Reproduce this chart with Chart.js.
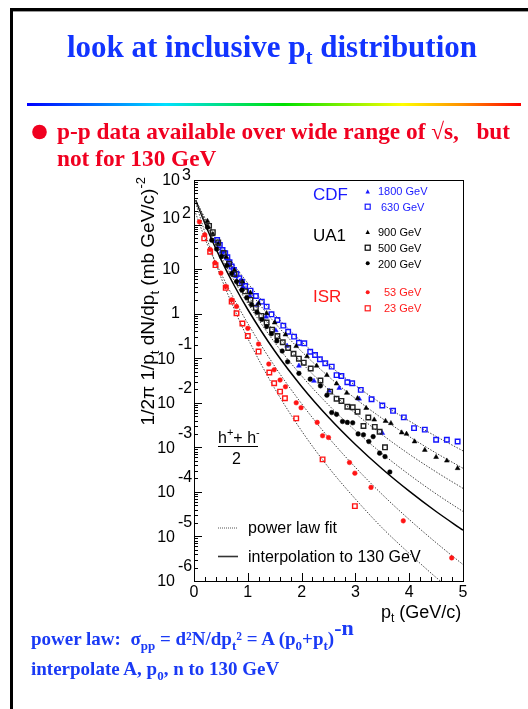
<!DOCTYPE html>
<html><head><meta charset="utf-8">
<script src="https://cdn.jsdelivr.net/npm/chart.js@4.4.1/dist/chart.umd.min.js"></script>
<style>
html,body{margin:0;padding:0;background:#fff}
body{width:528px;height:709px;position:relative;overflow:hidden}
#c{position:absolute;left:0;top:0}
#ov{position:absolute;left:0;top:0}
#ov text{white-space:pre}
</style></head><body>
<canvas id="c" width="528" height="709"></canvas>
<svg id="ov" width="528" height="709" xmlns="http://www.w3.org/2000/svg">
<defs><linearGradient id="rb" x1="0" x2="1" y1="0" y2="0">
<stop offset="0" stop-color="#0000ff"/><stop offset="0.28" stop-color="#00e0ff"/>
<stop offset="0.52" stop-color="#00e000"/><stop offset="0.76" stop-color="#ffff00"/>
<stop offset="0.88" stop-color="#ff9000"/><stop offset="1" stop-color="#ff0000"/></linearGradient></defs>
<rect x="10" y="8" width="518" height="3" fill="#000"/>
<rect x="13" y="11" width="515" height="1" fill="#999"/>
<rect x="10" y="8" width="3" height="701" fill="#000"/>
<text x="272" y="57" text-anchor="middle" font-family="Liberation Serif" font-weight="bold" font-size="31" fill="#1234ff">look at inclusive p<tspan font-size="21" dy="7">t</tspan><tspan dy="-7"> distribution</tspan></text>
<rect x="27" y="103" width="494" height="3" fill="url(#rb)"/>
<circle cx="39.5" cy="132" r="7.3" fill="#f00020"/>
<text x="57" y="139" font-family="Liberation Serif" font-weight="bold" font-size="23.3" fill="#f00020">p-p data available over wide range of √s,   but</text>
<text x="57" y="166" font-family="Liberation Serif" font-weight="bold" font-size="23.3" fill="#f00020">not for 130 GeV</text>
<g font-family="Liberation Serif" font-weight="bold" font-size="19" fill="#1a3af5">
<text x="31" y="645">power law:  σ<tspan font-size="13" dy="5">pp</tspan><tspan dy="-5"> = d²N/dp</tspan><tspan font-size="13" dy="5">t</tspan><tspan dy="-5">² = A (p</tspan><tspan font-size="13" dy="5">0</tspan><tspan dy="-5">+p</tspan><tspan font-size="13" dy="5">t</tspan><tspan dy="-5">)</tspan><tspan font-size="22" dy="-10">-n</tspan></text>
<text x="31" y="675">interpolate A, p<tspan font-size="13" dy="5">0</tspan><tspan dy="-5">, n to 130 GeV</tspan></text>
</g>
<g font-family="Liberation Sans" font-size="16">
<text transform="translate(154,177) rotate(-90)" text-anchor="end" font-size="19">1/2π 1/p<tspan font-size="13" dy="5">t</tspan><tspan dy="-5"> dN/dp</tspan><tspan font-size="13" dy="5">t</tspan><tspan dy="-5"> (mb GeV/c)</tspan><tspan font-size="13" dy="-9">-2</tspan></text>
<text x="381" y="618" font-size="18">p<tspan font-size="12" dy="4">t</tspan><tspan dy="-4"> (GeV/c)</tspan></text>
<text x="313" y="200" font-size="17" fill="#1a1aff">CDF</text>
<text x="313" y="241" font-size="17" fill="#000">UA1</text>
<text x="313" y="302" font-size="17" fill="#ff1a1a">ISR</text>
<g font-size="11">
<text x="378" y="195" fill="#1a1aff">1800 GeV</text>
<text x="381" y="211" fill="#1a1aff">630 GeV</text>
<text x="378" y="236" fill="#000">900 GeV</text>
<text x="378" y="252" fill="#000">500 GeV</text>
<text x="378" y="268" fill="#000">200 GeV</text>
<text x="384" y="296" fill="#ff1a1a">53 GeV</text>
<text x="384" y="312" fill="#ff1a1a">23 GeV</text>
</g>
<polygon points="365.5,193.5 369.9,193.5 367.7,189.3" fill="#1a1aff"/>
<rect x="365.2" y="204.2" width="5" height="5" fill="none" stroke="#1a1aff" stroke-width="1.2"/>
<polygon points="365.5,234 369.9,234 367.7,229.8" fill="#000"/>
<rect x="365.2" y="245.2" width="5" height="5" fill="none" stroke="#000" stroke-width="1.2"/>
<circle cx="367.7" cy="263.3" r="2" fill="#000"/>
<circle cx="367.7" cy="292.3" r="2" fill="#ff1a1a"/>
<rect x="365.2" y="305.8" width="5" height="5" fill="none" stroke="#ff1a1a" stroke-width="1.2"/>
<text x="218" y="443">h<tspan font-size="11" dy="-7">+</tspan><tspan dy="7">+ h</tspan><tspan font-size="11" dy="-7">-</tspan></text>
<rect x="218" y="446" width="40" height="1" fill="#000"/>
<text x="232" y="464">2</text>
<line x1="218" y1="528" x2="238" y2="528" stroke="#555" stroke-width="1" stroke-dasharray="1,1"/>
<text x="248" y="533">power law fit</text>
<line x1="218" y1="556.5" x2="238" y2="556.5" stroke="#333" stroke-width="1.6"/>
<text x="248" y="562">interpolation to 130 GeV</text>
</g>
</svg>
<script>
// ---------- data ----------
const xTickLabels = ['0','1','2','3','4','5'];
const yTickExponents = [-6,-5,-4,-3,-2,-1,0,1,2,3];

// CDF 630 GeV (open blue squares)
const pt630 = [0.43,0.48,0.53,0.58,0.62,0.66,0.70,0.74,0.79,0.84,0.89,0.95,1.05,1.15,1.26,1.35,1.44,1.55,1.66,1.75,1.86,1.95,2.05,2.16,2.25,2.34,2.44,2.56,2.65,2.74,2.85,2.94,3.10,3.30,3.50,3.70,3.90,4.09,4.29,4.50,4.70,4.90];
const val630 = [45.0,34.8,26.9,22.6,18.4,14.2,11.4,9.55,7.76,6.21,5.22,4.18,3.28,2.49,1.86,1.44,0.966,0.721,0.538,0.394,0.305,0.223,0.216,0.140,0.118,0.0946,0.0769,0.0647,0.0417,0.0398,0.0288,0.0275,0.0195,0.0120,0.0087,0.0066,0.0047,0.0027,0.0025,0.00148,0.00148,0.00135];

// CDF 1800 GeV (filled blue triangles)
const pt1800 = [0.52,0.65,0.78,0.91,1.04,1.17,1.34,1.52,1.73,1.95,2.23,2.51,2.70,3.07,3.50];
const val1800 = [24.0,12.6,6.9,4.0,2.5,1.55,0.85,0.42,0.19,0.0676,0.0309,0.0186,0.0214,0.0123,0.00209];

// UA1 900 GeV (filled black triangles)
const pt900 = [0.25,0.35,0.45,0.60,0.75,0.90,1.05,1.20,1.35,1.50,1.70,1.90,2.10,2.28,2.47,2.65,2.84,3.04,3.20,3.35,3.56,3.66,3.86,3.95,4.10,4.29,4.50,4.70,4.90];
const val900 = [120,60.3,36.3,18.6,9.55,5.25,2.95,1.70,1.02,0.631,0.339,0.186,0.110,0.0676,0.0417,0.0269,0.0166,0.0126,0.00759,0.00417,0.00389,0.00347,0.00214,0.00200,0.00135,0.00087,0.000603,0.000501,0.000339];

// UA1 500 GeV (open black squares)
const pt500 = [0.28,0.35,0.45,0.55,0.65,0.75,0.85,0.95,1.05,1.15,1.25,1.35,1.45,1.55,1.65,1.75,1.85,1.95,2.04,2.17,2.35,2.53,2.65,2.74,2.85,2.95,3.04,3.15,3.24,3.36,3.45,3.55];
const val500 = [93.3,67.6,39.8,22.9,13.2,7.76,4.79,3.16,2.04,1.35,0.891,0.631,0.437,0.316,0.229,0.170,0.126,0.0977,0.0794,0.0589,0.0316,0.0178,0.0123,0.0110,0.00813,0.00794,0.00631,0.00302,0.00468,0.00288,0.00224,0.00100];

// UA1 200 GeV (filled black circles)
const pt200 = [0.25,0.33,0.42,0.51,0.61,0.70,0.79,0.89,0.98,1.07,1.17,1.26,1.35,1.44,1.54,1.64,1.74,1.95,2.16,2.35,2.47,2.56,2.65,2.76,2.85,2.95,3.05,3.15,3.25,3.33,3.45,3.55,3.64];
const val200 = [87.1,44.7,28.2,19.1,12.0,7.94,5.25,3.39,2.29,1.58,1.07,0.741,0.513,0.355,0.245,0.145,0.0832,0.0457,0.0339,0.0240,0.0148,0.00603,0.00550,0.00380,0.00363,0.00355,0.00200,0.00191,0.00135,0.00174,0.00074,0.00062,0.00028];

// ISR 53 GeV (filled red circles)
const pt53 = [0.10,0.20,0.30,0.39,0.50,0.59,0.70,0.79,1.00,1.20,1.39,1.49,1.60,1.70,1.90,1.99,2.29,2.39,2.50,2.89,2.99,3.29,3.89,4.79];
const val53 = [115,58.9,27.5,13.8,8.13,4.07,2.04,1.45,0.468,0.209,0.0741,0.0550,0.0324,0.0229,0.0100,0.00776,0.00363,0.00182,0.00166,0.000457,0.000263,0.000126,0.0000224,0.0000033];

// ISR 23 GeV (open red squares)
const pt23 = [0.19,0.30,0.40,0.59,0.70,0.79,0.90,1.00,1.20,1.40,1.49,1.60,1.69,1.90,2.39,2.99];
const val23 = [49.0,24.5,12.3,3.80,1.86,1.02,0.603,0.316,0.141,0.0479,0.0275,0.0178,0.0126,0.00447,0.000537,0.0000479];

// power-law fit curves and the 130 GeV interpolation, read at fixed pt positions
const fitPt = [0.03,0.25,0.5,0.75,1.0,1.5,2.0,2.5,3.0,3.5,4.0,4.5,5.0];
const fit630 = [355,111,34.7,12.3,4.83,0.951,0.234,0.0710,0.0244,0.00933,0.00391,0.00176,0.000832];
const fit900 = [355,102,29.4,9.7,3.57,0.627,0.142,0.0390,0.0124,0.00444,0.00175,0.000745,0.000339];
const fit500 = [355,93.3,24.4,7.41,2.54,0.390,0.0794,0.0198,0.00577,0.00191,0.000702,0.000281,0.000120];
const fit200 = [355,83.8,19.7,5.43,1.70,0.225,0.0402,0.00895,0.00237,0.000718,0.000244,0.0000904,0.0000363];
const fit130 = [355,76.7,16.6,4.23,1.24,0.145,0.0233,0.00474,0.00116,0.000327,0.000104,0.0000363,0.0000138];
const fit53  = [180,35.2,8.13,2.09,0.603,0.0661,0.00955,0.00166,0.000355,0.0000871,0.0000240,0.00000724,0.00000234];
const fit23  = [309,44.7,6.61,1.25,0.278,0.0209,0.00234,0.000355,0.0000692,0.0000155,0.00000417,0.0000012,0.00000039];

// ---------- build ----------
const xy = (xs, ys) => xs.map((x, i) => ({x, y: ys[i]}));
const BLUE = '#1414ff', RED = '#ff1414', BLACK = '#000';
function fitDs(ys, solid){
  return {type:'line', data: xy(fitPt, ys), borderColor: solid ? '#000' : '#444', borderWidth: solid ? 1.5 : 1,
    borderDash: solid ? [] : [1.5,1.5], pointRadius:0, cubicInterpolationMode:'monotone', fill:false, order:2};
}
function ptsDs(xs, ys, style, color, open){
  return {type:'scatter', data: xy(xs, ys), pointStyle: style, pointRadius: style==='rect'?3.2:(style==='triangle'?2.8:2.3),
    backgroundColor: open ? 'rgba(255,255,255,0)' : color, borderColor: color, pointBorderWidth: open?1.4:0.5, order:1};
}
const datasets = [
  fitDs(fit630), fitDs(fit900), fitDs(fit500), fitDs(fit200), fitDs(fit130, true), fitDs(fit53), fitDs(fit23),
  ptsDs(pt200, val200, 'circle', BLACK, false),
  ptsDs(pt500, val500, 'rect', '#222', true),
  ptsDs(pt900, val900, 'triangle', BLACK, false),
  ptsDs(pt1800, val1800, 'triangle', BLUE, false),
  ptsDs(pt630, val630, 'rect', BLUE, true),
  ptsDs(pt53, val53, 'circle', RED, false),
  ptsDs(pt23, val23, 'rect', RED, true),
];

const frameTicks = {
  id: 'frameTicks',
  afterDraw(chart){
    const {ctx, chartArea: a, scales: {x, y}} = chart;
    ctx.save();
    ctx.strokeStyle = '#000'; ctx.lineWidth = 1;
    ctx.strokeRect(Math.round(a.left)+0.5, Math.round(a.top)+0.5, Math.round(a.right-a.left), Math.round(a.bottom-a.top));
    ctx.beginPath();
    for (let i = 0; i <= 25; i++){
      const px = Math.round(x.getPixelForValue(i*0.2)) + 0.5;
      const len = (i % 5 === 0) ? 8 : 4;
      ctx.moveTo(px, a.bottom); ctx.lineTo(px, a.bottom - len);
    }
    for (const e of yTickExponents){
      const py = Math.round(y.getPixelForValue(Math.pow(10, e))) + 0.5;
      ctx.moveTo(a.left, py); ctx.lineTo(a.left + 8, py);
      if (e < 3) for (let k = 2; k <= 9; k++){
        const pm = Math.round(y.getPixelForValue(k*Math.pow(10, e))) + 0.5;
        ctx.moveTo(a.left, pm); ctx.lineTo(a.left + 4, pm);
      }
    }
    ctx.stroke();
    ctx.fillStyle = '#000';
    ctx.font = '16px "Liberation Sans"';
    ctx.textBaseline = 'middle';
    ctx.textAlign = 'center';
    xTickLabels.forEach((t, i) => ctx.fillText(t, x.getPixelForValue(i), a.bottom + 12));
    for (const e of yTickExponents){
      const py = y.getPixelForValue(Math.pow(10, e));
      ctx.textAlign = 'right';
      if (e === 0){ ctx.fillText('1', a.left - 14, py); continue; }
      if (e === 1){ ctx.fillText('10', a.left - 14, py); continue; }
      if (e > 1){
        const dy = (e === 3) ? 1 : -6;
        ctx.fillText('10', a.left - 14, py + dy);
        ctx.textAlign = 'left';
        ctx.fillText(String(e), a.left - 12, py + dy - 5);
      } else {
        ctx.fillText('10', a.left - 19, py + 1);
        ctx.textAlign = 'left';
        ctx.fillText(String(e), a.left - 16, py - 14);
      }
    }
    ctx.restore();
  }
};

new Chart(document.getElementById('c'), {
  data: {datasets},
  options: {
    responsive: false, animation: false, maintainAspectRatio: false,
    layout: {padding: {left: 194, right: 65, top: 180, bottom: 128}},
    plugins: {legend: {display: false}, tooltip: {enabled: false}},
    scales: {
      x: {type: 'linear', min: 0, max: 5, grid: {display: false}, border: {display: false}, ticks: {display: false},
          afterFit(s){ s.height = 0; }},
      y: {type: 'logarithmic', min: 1e-6, max: 1e3, grid: {display: false}, border: {display: false}, ticks: {display: false},
          afterFit(s){ s.width = 0; }}
    }
  },
  plugins: [frameTicks]
});
</script>
</body></html>
